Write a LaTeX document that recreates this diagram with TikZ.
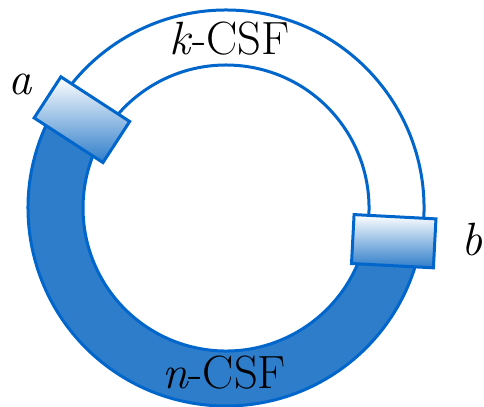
\documentclass[tikz,border=0pt]{standalone}
\usepackage{fontspec}
\usetikzlibrary{positioning}
\definecolor{ringblue}{RGB}{0,102,204}
\definecolor{ringfill}{RGB}{46,125,202}

\begin{document}
\begin{tikzpicture}[x=0.75pt,y=0.75pt,
  kring/.style={draw=ringblue,line width=2.25pt},
  nring/.style={draw=ringblue,fill=ringfill,line width=2.25pt},
  clamp/.style={draw=ringblue,line width=2.25pt,minimum width=61.5pt,minimum height=36.75pt,
    top color=white,bottom color=ringfill,inner sep=0pt},
  lbl/.style={font=\fontsize{35}{42}\selectfont,anchor=base,inner sep=0pt}]
\useasboundingbox (0,0) rectangle (484,406);
\coordinate (C) at (226,198);
\filldraw[nring] ([shift={(148.5:198)}]C) arc[start angle=148.5,end angle=349,radius=198]
  -- ([shift={(349:143)}]C) arc[start angle=349,end angle=148.5,radius=143] -- cycle;
\draw[kring] ([shift={(-11:198)}]C) arc[start angle=-11,end angle=148.5,radius=198];
\draw[kring] ([shift={(-11:143)}]C) arc[start angle=-11,end angle=148.5,radius=143];
\node[clamp,rotate=-33] (clampA) at ([shift={(148.5:169)}]C) {};
\node[clamp,rotate=-3] (clampB) at ([shift={(-11.2:171)}]C) {};
\node[lbl] (kcsf) at (229.5,351) {\textit{k}-CSF};
\node[lbl] (ncsf) at (224,18) {\textit{n}-CSF};
\node[lbl] (labA) at (20,311) {\textit{a}};
\node[lbl] (labB) at (472,150) {\textit{b}};
\end{tikzpicture}
\end{document}
